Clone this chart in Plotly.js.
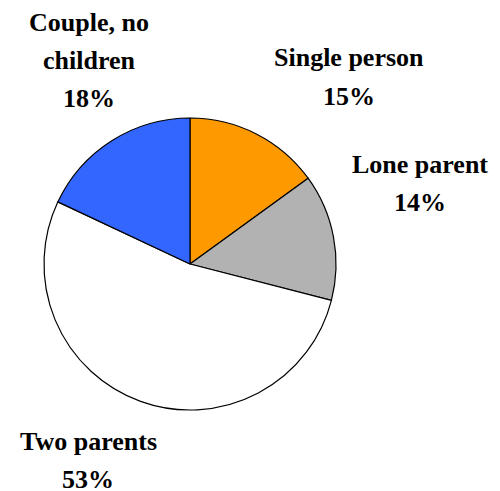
<!DOCTYPE html>
<html>
<head>
<meta charset="utf-8">
<script src="https://cdn.plot.ly/plotly-3.0.1.min.js"></script>
<style>
html,body{margin:0;padding:0;background:#fff;}
#chart{width:500px;height:491px;}
</style>
</head>
<body>
<div id="chart"></div>
<script>
// Data
const categories = ["Single person", "Lone parent", "Two parents", "Couple, no children"];
const labelLines = [["Single person"], ["Lone parent"], ["Two parents"], ["Couple, no", "children"]];
const shares = [15, 14, 53, 18];

// Styles
const sliceColors = ["#FF9900", "#B2B2B2", "#FFFFFF", "#3366FF"];
// label centre x and first-line baseline y (pixels from top)
const labelPos = [[349, 67], [420, 173], [88, 450], [89, 32]];
const LINE_H = 38;
const FONT = 'Liberation Serif';
const FONT_SIZE = 26;

const W = 500, H = 491;
const annotations = [];
categories.forEach((c, i) => {
  const lines = labelLines[i].concat([shares[i] + '%']);
  lines.forEach((t, k) => {
    const base = labelPos[i][1] + k * LINE_H;
    annotations.push({
      xref: 'paper', yref: 'paper',
      x: labelPos[i][0] / W, y: 1 - (base - 9) / H,
      xanchor: 'center', yanchor: 'middle',
      text: '<b>' + t + '</b>', showarrow: false, align: 'center',
      font: {family: FONT, size: FONT_SIZE, color: '#000'}
    });
  });
});

const trace = {
  type: 'pie',
  labels: categories,
  values: shares,
  sort: false,
  direction: 'clockwise',
  rotation: 0,
  textinfo: 'none',
  hoverinfo: 'label+percent',
  marker: {colors: sliceColors, line: {color: '#000', width: 1.2}},
  domain: {x: [44 / W, 336 / W], y: [1 - 410 / H, 1 - 118 / H]}
};

Plotly.newPlot('chart', [trace], {
  width: W, height: H,
  margin: {l: 0, r: 0, t: 0, b: 0},
  showlegend: false,
  paper_bgcolor: '#fff',
  annotations: annotations
}, {displayModeBar: false, staticPlot: true});
</script>
</body>
</html>
